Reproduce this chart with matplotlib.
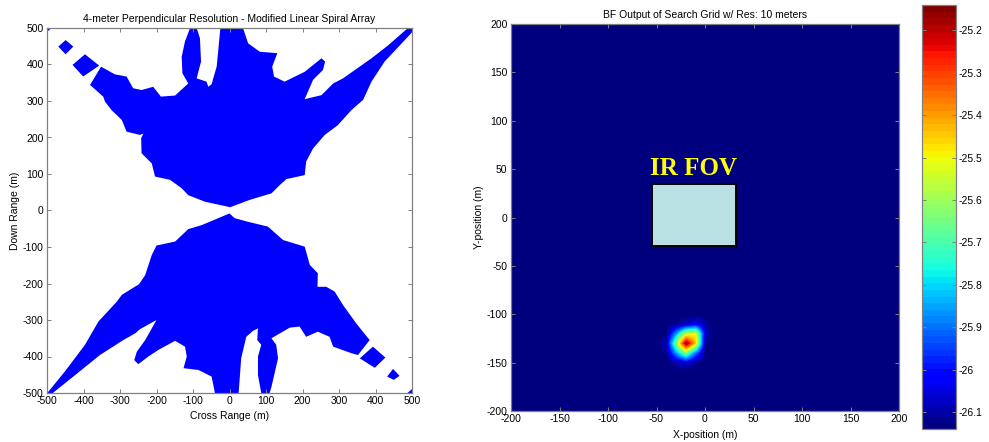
import numpy as np
import matplotlib
matplotlib.use("Agg")
import matplotlib.pyplot as plt
from matplotlib.patches import Polygon, Rectangle
from matplotlib.colors import Normalize
from matplotlib.cm import ScalarMappable

plt.rcParams['font.family'] = ['Liberation Sans', 'DejaVu Sans']
plt.rcParams['axes.unicode_minus'] = False

# ---------------- left panel: 4 m resolution regions (cross range, down range) ----------------
upper_region = [
    (2, 9), (-67, 24), (-113, 42), (-131, 61), (-163, 84), (-204, 93), (-213, 129),
    (-241, 157), (-242, 198), (-236, 211), (-245, 207), (-282, 216), (-295, 248),
    (-323, 275), (-341, 298), (-346, 312), (-382, 344), (-352, 394), (-314, 373),
    (-282, 367), (-264, 335), (-241, 330), (-209, 339), (-188, 312), (-149, 315),
    (-113, 348), (-129, 376), (-131, 421), (-122, 463), (-108, 500), (-90, 500),
    (-81, 472), (-78, 408), (-90, 362), (-63, 353), (-58, 339), (-49, 346),
    (-35, 395), (-25, 500), (37, 500), (51, 458), (83, 435), (131, 431), (117, 394),
    (122, 367), (151, 353), (206, 380), (252, 417), (262, 408), (256, 385),
    (229, 358), (206, 305), (252, 316), (284, 348), (311, 362), (389, 417),
    (434, 452), (489, 500), (500, 500), (500, 488), (425, 408), (389, 353),
    (366, 303), (334, 275), (297, 234), (261, 207), (229, 170), (210, 134),
    (206, 97), (156, 86), (138, 70), (115, 47), (55, 29),
]
lower_region = [
    (0, -8), (-76, -40), (-113, -51), (-149, -85), (-200, -96), (-213, -122),
    (-231, -177), (-248, -202), (-295, -231), (-309, -250), (-359, -304),
    (-396, -368), (-451, -441), (-496, -496), (-500, -500), (-484, -500),
    (-423, -451), (-355, -396), (-291, -355), (-259, -337), (-245, -325),
    (-200, -300), (-231, -355), (-254, -387), (-261, -410), (-250, -421),
    (-222, -400), (-195, -382), (-149, -357), (-122, -373), (-117, -400),
    (-126, -432), (-85, -437), (-49, -455), (-40, -500), (25, -500), (28, -460),
    (32, -405), (46, -346), (64, -330), (78, -323), (76, -355), (87, -368),
    (78, -400), (78, -451), (87, -500), (110, -500), (115, -483), (133, -405),
    (128, -368), (115, -350), (165, -321), (192, -318), (210, -346), (242, -332),
    (274, -346), (284, -373), (334, -391), (352, -396), (384, -355), (347, -309),
    (311, -259), (288, -222), (265, -209), (241, -209), (242, -172), (220, -149),
    (206, -99), (147, -81), (105, -44), (51, -31), (14, -21),
]
island_nw_1 = [(-469, 449), (-449, 467), (-428, 449), (-449, 428)]
island_nw_2 = [(-430, 399), (-396, 428), (-357, 397), (-401, 367)]
island_se_1 = [(357, -405), (393, -373), (427, -403), (398, -431)]
island_se_2 = [(432, -455), (448, -434), (466, -453), (450, -464)]
corner_nw = [(-500, 500), (-488, 500), (-500, 489)]
corner_se = [(500, -500), (488, -500), (500, -489)]
left_regions = [upper_region, lower_region, island_nw_1, island_nw_2,
                island_se_1, island_se_2, corner_nw, corner_se]
left_ticks = [-500, -400, -300, -200, -100, 0, 100, 200, 300, 400, 500]

# ---------------- right panel: beamformer output on a 10 m search grid ----------------
grid_x = np.arange(-200, 201, 10)
grid_y = np.arange(-200, 201, 10)
floor_level = -26.14
peak_x = [-40, -30, -20, -10, 0]
peak_y = [-110, -120, -130, -140, -150]
peak_values = [
    [-26.14, -26.13, -26.08, -26.03, -26.10],
    [-26.13, -25.85, -25.55, -25.50, -26.08],
    [-26.08, -25.62, -25.14, -25.45, -26.12],
    [-26.12, -25.85, -25.62, -25.90, -26.14],
    [-26.14, -26.10, -26.06, -26.12, -26.14],
]
cbar_min, cbar_max = -26.14, -25.14
cbar_ticks = [-26.1, -26.0, -25.9, -25.8, -25.7, -25.6, -25.5, -25.4, -25.3, -25.2]
cbar_labels = ['-26.1', '-26', '-25.9', '-25.8', '-25.7', '-25.6', '-25.5', '-25.4', '-25.3', '-25.2']
right_ticks = [-200, -150, -100, -50, 0, 50, 100, 150, 200]
fov_x0, fov_x1, fov_y0, fov_y1 = -55, 32, -29, 35

power = np.full((len(grid_y), len(grid_x)), floor_level)
for i, yv in enumerate(peak_y):
    for j, xv in enumerate(peak_x):
        power[np.searchsorted(grid_y, yv), np.searchsorted(grid_x, xv)] = peak_values[i][j]

W, H = 989, 442
fig = plt.figure(figsize=(W / 100, H / 100), dpi=100)

frame_color = '0.5'
tick_fs = 7.5


def style_axes(ax):
    for s in ax.spines.values():
        s.set_color(frame_color)
        s.set_linewidth(0.9)
    ax.tick_params(direction='in', length=3, width=0.7, color=frame_color,
                   labelsize=tick_fs, top=True, right=True, pad=2.5)


# left panel
axL = fig.add_axes([47 / W, 1 - 393 / H, 365 / W, 365 / H])
for pts in left_regions:
    axL.add_patch(Polygon(pts, closed=True, facecolor=(0, 0, 1), edgecolor='none', lw=0))
axL.set_xlim(-500, 500)
axL.set_ylim(-500, 500)
axL.set_xticks(left_ticks)
axL.set_yticks(left_ticks)
style_axes(axL)
axL.set_title('4-meter Perpendicular Resolution - Modified Linear Spiral Array', fontsize=7.5, pad=4)
axL.set_xlabel('Cross Range (m)', fontsize=7.5, labelpad=3)
axL.set_ylabel('Down Range (m)', fontsize=7.5, labelpad=2)

# right panel
cmap = plt.get_cmap('jet', 64)
axR = fig.add_axes([511 / W, 1 - 411 / H, 388 / W, 387 / H])
axR.imshow(power, origin='lower', extent=[-205, 205, -205, 205], cmap=cmap,
           vmin=cbar_min, vmax=cbar_max, interpolation='bilinear',
           interpolation_stage='data', aspect='auto')
axR.set_xlim(-200, 200)
axR.set_ylim(-200, 200)
axR.set_xticks(right_ticks)
axR.set_yticks(right_ticks)
style_axes(axR)
axR.add_patch(Rectangle((fov_x0, fov_y0), fov_x1 - fov_x0, fov_y1 - fov_y0,
                        facecolor='#b9e0e3', edgecolor='black', lw=1.4, zorder=3))
axR.text((fov_x0 + fov_x1) / 2, fov_y1 + 4, 'IR FOV', color='#ffff00',
         fontsize=18, fontweight='bold', family=['Liberation Serif', 'DejaVu Serif'],
         ha='center', va='bottom', zorder=4)
axR.set_title('BF Output of Search Grid w/ Res: 10 meters', fontsize=7.5, pad=4)
axR.set_xlabel('X-position (m)', fontsize=7.5, labelpad=4)
axR.set_ylabel('Y-position (m)', fontsize=7.5, labelpad=2)

# colorbar
cax = fig.add_axes([922 / W, 1 - 429 / H, 34 / W, 424 / H])
sm = ScalarMappable(norm=Normalize(cbar_min, cbar_max), cmap=cmap)
cb = fig.colorbar(sm, cax=cax, ticks=cbar_ticks)
cb.set_ticklabels(cbar_labels)
cb.outline.set_edgecolor(frame_color)
cb.outline.set_linewidth(0.9)
cax.tick_params(direction='in', length=3, width=0.7, color=frame_color,
                labelsize=tick_fs, left=True, right=True, pad=2)

fig.savefig('out.png', dpi=100)
